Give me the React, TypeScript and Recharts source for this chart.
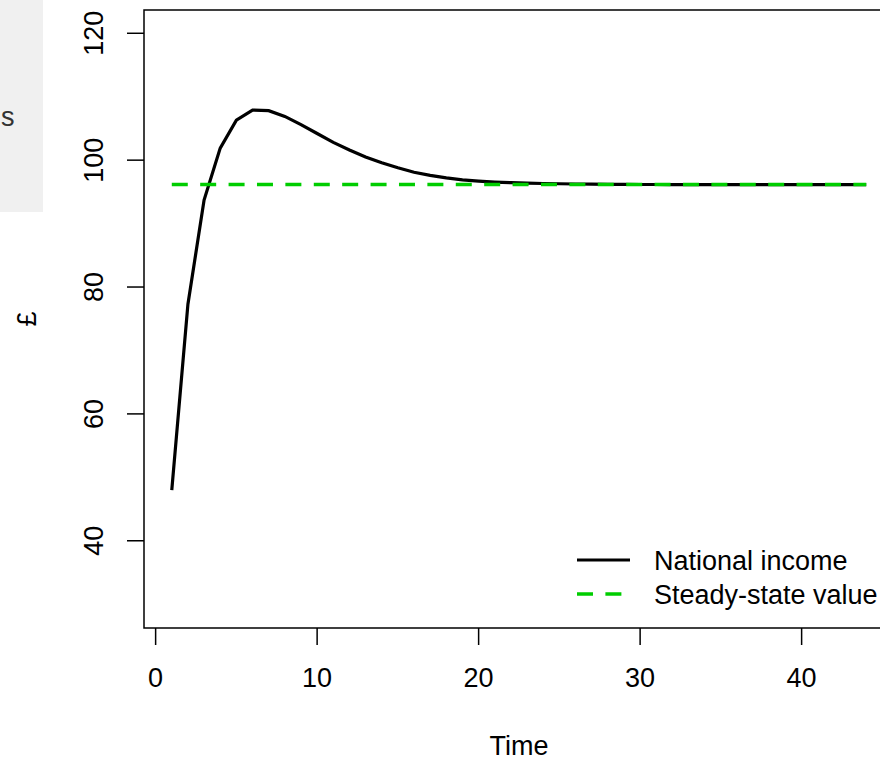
import React from 'react';
import { ComposedChart, Line, XAxis, YAxis, ReferenceLine, ReferenceArea, Legend, Label } from 'recharts';

const time = [1, 2, 3, 4, 5, 6, 7, 8, 9, 10, 11, 12, 13, 14, 15, 16, 17, 18, 19, 20, 21, 22, 23, 24, 25, 26, 27, 28, 29, 30, 31, 32, 33, 34, 35, 36, 37, 38, 39, 40, 41, 42, 43, 44];
const nationalIncome = [48.0, 77.3, 93.7, 101.9, 106.3, 107.9, 107.8, 106.9, 105.6, 104.2, 102.8, 101.6, 100.5, 99.6, 98.8, 98.1, 97.6, 97.2, 96.9, 96.7, 96.55, 96.45, 96.38, 96.32, 96.28, 96.24, 96.21, 96.19, 96.17, 96.16, 96.16, 96.15, 96.15, 96.15, 96.15, 96.15, 96.15, 96.15, 96.15, 96.15, 96.15, 96.15, 96.15, 96.15];
const steadyStateValue = 96.15;
const steadyStateStart = 1;
const steadyStateEnd = 44;
const xTicks = [0, 10, 20, 30, 40];
const yTicks = [40, 60, 80, 100, 120];
const xDomain: [number, number] = [-0.72, 45.72];
const yDomain: [number, number] = [26.25, 123.67];
const seriesNames = ['National income', 'Steady-state value'];
const xLabel = 'Time';
const yLabel = '£';

const data = time.map((t, i) => ({ t, income: nationalIncome[i] }));

const FONT = '"Liberation Sans", Arial, sans-serif';
const GREEN = '#00CD00';
const DASH = '16 12.4';

const YTick = (props: any) => {
  const { x, y, payload } = props;
  return (
    <text x={x} y={y} transform={`rotate(-90 ${x} ${y})`} textAnchor="middle" fontSize={27} fill="#000" fontFamily={FONT}>
      {payload.value}
    </text>
  );
};

const YLabelContent = (props: any) => {
  const vb = props.viewBox || { x: 0, y: 10, width: 144, height: 618 };
  const cx = 36;
  const cy = vb.y + vb.height / 2;
  return (
    <text x={cx} y={cy} transform={`rotate(-90 ${cx} ${cy})`} textAnchor="middle" fontSize={27} fill="#000" fontFamily={FONT}>
      {yLabel}
    </text>
  );
};

const XLabelContent = (props: any) => {
  const vb = props.viewBox || { x: 144, y: 628, width: 750, height: 133 };
  return (
    <text x={vb.x + vb.width / 2} y={755} textAnchor="middle" fontSize={27} fill="#000" fontFamily={FONT}>
      {xLabel}
    </text>
  );
};

const LegendContent = () => (
  <div style={{ fontSize: 27, lineHeight: '34px', color: '#000', fontFamily: FONT, whiteSpace: 'nowrap' }}>
    <div style={{ display: 'flex', alignItems: 'center', height: 34 }}>
      <svg width={77} height={34} style={{ display: 'block' }}>
        <line x1={0} x2={53} y1={16} y2={16} stroke="#000" strokeWidth={3} />
      </svg>
      <span>{seriesNames[0]}</span>
    </div>
    <div style={{ display: 'flex', alignItems: 'center', height: 34 }}>
      <svg width={77} height={34} style={{ display: 'block' }}>
        <line x1={0} x2={53} y1={16} y2={16} stroke={GREEN} strokeWidth={3.5} strokeDasharray={DASH} />
      </svg>
      <span>{seriesNames[1]}</span>
    </div>
  </div>
);

export default function App() {
  return (
    <div style={{ position: 'absolute', left: 0, top: 0, width: 880, height: 761, overflow: 'hidden', background: '#fff', fontFamily: FONT }}>
      <div style={{ position: 'absolute', left: 0, top: 0, width: 43, height: 212, background: '#f0f0f0' }}>
        <span style={{ position: 'absolute', left: 1, top: 100, fontSize: 27, lineHeight: '34px', color: '#333', fontFamily: FONT }}>s</span>
      </div>
      <ComposedChart width={910} height={761} data={data} margin={{ top: 10, right: 16, bottom: 0, left: 0 }}>
        <XAxis
          dataKey="t"
          type="number"
          domain={xDomain}
          ticks={xTicks}
          allowDataOverflow
          axisLine={false}
          tickLine={{ stroke: '#000', strokeWidth: 1.5 }}
          tickSize={17}
          tickMargin={23}
          height={133}
          tick={{ fontSize: 27, fill: '#000', fontFamily: FONT }}
        >
          <Label content={XLabelContent} />
        </XAxis>
        <YAxis
          type="number"
          domain={yDomain}
          ticks={yTicks}
          allowDataOverflow
          axisLine={false}
          tickLine={{ stroke: '#000', strokeWidth: 1.5 }}
          tickSize={17}
          tickMargin={24}
          width={144}
          tick={YTick}
        >
          <Label content={YLabelContent} />
        </YAxis>
        <ReferenceArea
          x1={xDomain[0]}
          x2={xDomain[1]}
          y1={yDomain[0]}
          y2={yDomain[1]}
          fill="none"
          fillOpacity={0}
          stroke="#000"
          strokeWidth={1.5}
          ifOverflow="visible"
        />
        <Line
          type="linear"
          dataKey="income"
          name={seriesNames[0]}
          stroke="#000"
          strokeWidth={3.2}
          dot={false}
          activeDot={false}
          isAnimationActive={false}
        />
        <ReferenceLine
          segment={[{ x: steadyStateStart, y: steadyStateValue }, { x: steadyStateEnd, y: steadyStateValue }]}
          stroke={GREEN}
          strokeWidth={3.5}
          strokeDasharray={DASH}
        />
        <Legend
          layout="vertical"
          align="center"
          verticalAlign="middle"
          content={LegendContent}
          wrapperStyle={{ left: 577, top: 544, width: 330, height: 70 }}
        />
      </ComposedChart>
    </div>
  );
}
